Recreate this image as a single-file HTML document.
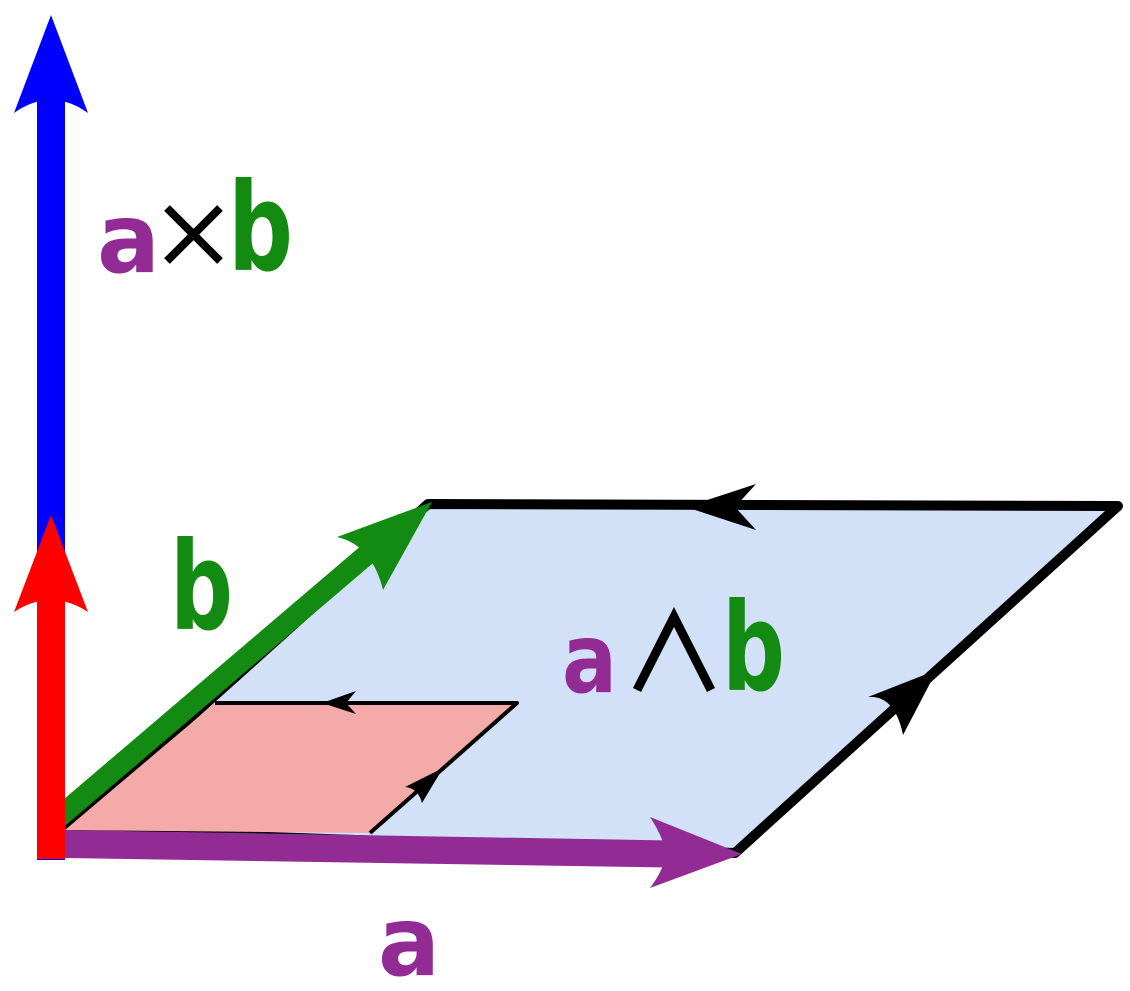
<!DOCTYPE html>
<html><head><meta charset="utf-8"><style>html,body{margin:0;padding:0;background:#fff}svg{display:block}</style></head>
<body>
<svg width="1130" height="991" viewBox="0 0 1130 991" xmlns="http://www.w3.org/2000/svg">
<polygon points="65,830 428,504 1118,506 735,853" fill="#d2e1f8" stroke="#000" stroke-width="10" stroke-linejoin="round"/>
<path d="M686,507 L756,484 L735,507 L756,530 Z" fill="#000"/>
<path d="M937,670 L868,697 Q895,695 903,735 Z" fill="#000"/>
<polygon points="65,830 215,703 517,703 370,833" fill="#f5aaaa"/>
<polyline points="215,703 517,703 370,833" fill="none" stroke="#000" stroke-width="4" stroke-linejoin="round"/>
<path d="M322,703 L356,691 L346,703 L356,714 Z" fill="#000"/>
<path d="M443,768 L405,787 Q418,788 422,803 Z" fill="#000"/>
<line x1="58" y1="818" x2="405" y2="522" stroke="#138a12" stroke-width="21"/>
<path d="M432,502 L337,537 Q372,545 383,590 Z" fill="#138a12"/>
<polygon points="65,830 700,841 700,868 65,858" fill="#922b94"/>
<path d="M742,854 L650,817 Q665,840 665,854 Q665,868 650,888 Z" fill="#922b94"/>
<rect x="37" y="100" width="28" height="760" fill="#0000ff"/>
<path d="M51,15 L88,113 Q70,100 51,100 Q32,100 14,113 Z" fill="#0000ff"/>
<rect x="37" y="600" width="28" height="259" fill="#ff0000"/>
<path d="M51,515 L88,612 Q70,600 51,600 Q32,600 14,612 Z" fill="#ff0000"/>
<g font-family="'DejaVu Sans','Liberation Sans',sans-serif" font-weight="bold">
<text x="97" y="272" fill="#922b94" font-size="96" textLength="63" lengthAdjust="spacingAndGlyphs">a</text>
<text x="228" y="270" fill="#138a12" font-size="122" textLength="65" lengthAdjust="spacingAndGlyphs">b</text>
<text x="170" y="629" fill="#138a12" font-size="122" textLength="63" lengthAdjust="spacingAndGlyphs">b</text>
<text x="562" y="692" fill="#922b94" font-size="96" textLength="55" lengthAdjust="spacingAndGlyphs">a</text>
<text x="722" y="690" fill="#138a12" font-size="122" textLength="63" lengthAdjust="spacingAndGlyphs">b</text>
<text x="378" y="975" fill="#922b94" font-size="96" textLength="62" lengthAdjust="spacingAndGlyphs">a</text>
</g>
<g stroke="#000" stroke-width="8"><line x1="167" y1="208" x2="220" y2="261"/><line x1="220" y1="208" x2="167" y2="261"/></g>
<polyline points="637,690 674,617 711,690" fill="none" stroke="#000" stroke-width="9"/>
</svg>
</body></html>
